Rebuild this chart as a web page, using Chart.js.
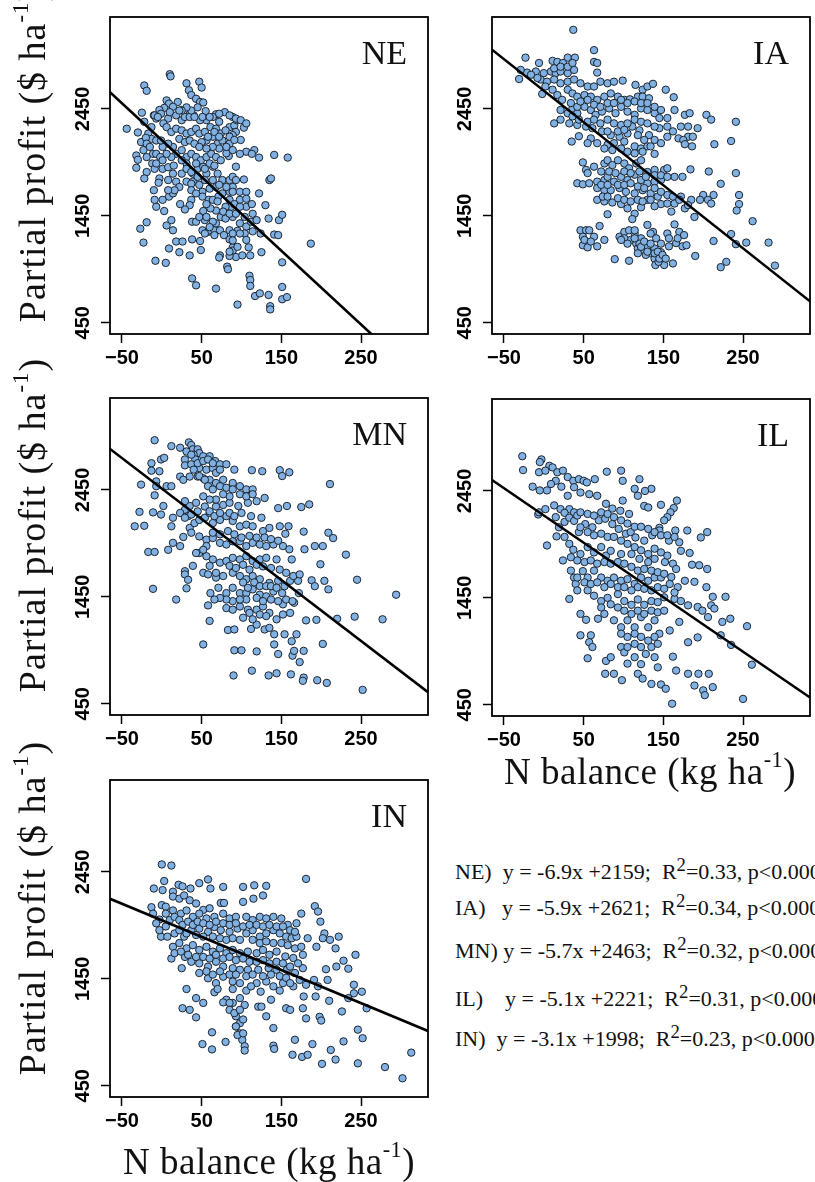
<!DOCTYPE html>
<html><head><meta charset="utf-8">
<script src="https://cdn.jsdelivr.net/npm/chart.js@4.4.1/dist/chart.umd.min.js"></script>
<style>
html,body{margin:0;padding:0;background:#fff;overflow:hidden;width:815px;height:1182px;position:relative;}
.t{position:absolute;font-family:"Liberation Serif","Times New Roman",serif;color:#111;white-space:pre;line-height:1;}
.t sup{font-size:0.6em;vertical-align:0;position:relative;top:-0.75em;line-height:0;}
.ytitle{font-size:38px;letter-spacing:1px;transform:translate(-50%,-50%) rotate(-90deg);}
.xtitle{font-size:37px;letter-spacing:0.5px;transform:translateX(-50%);}
.plabel{font-size:34px;}
.eq{font-size:22px;}
.eq sup{font-size:0.85em;top:-0.45em;}
</style></head><body>
<script>
// ---- data ----
const panelNames = ['NE','IA','MN','IL','IN'];
const slopes = [-6.9,-5.9,-5.7,-5.1,-3.1];
const intercepts = [2159,2621,2463,2221,1998];
const rSquared = ['0.33','0.34','0.32','0.31','0.23'];
const pText = 'p<0.0001';
const xTickVals = [-50,50,150,250];
const yTickVals = [450,1450,2450];
const xLimits = [-65,334];
const yLimits = [345,3310];
const yTitle = 'Partial profit ($ ha<sup>-1</sup>)';
const xTitle = 'N balance (kg ha<sup>-1</sup>)';

const NE_pts = [[10,2775],[11,2755],[-22,2670],[-19,2620],[31,2690],[47,2705],[50,2650],[34,2625],[37,2580],[43,2545],[48,2515],[52,2510],[6,2530],[9,2500],[20,2515],[14,2470],[3,2460],[-3,2440],[25,2440],[55,2430],[79,2420],[68,2400],[-25,2415],[-10,2390],[-1,2405],[35,2400],[40,2390],
[18,2390],[25,2345],[29,2375],[35,2375],[8,2360],[2,2315],[-7,2360],[-13,2280],[-17,2220],[-13,2170],[-7,2155],[-44,2265],[-30,2230],[-22,2330],[-9,2390],[-26,2140],[-20,2180],
[61,2280],[68,2265],[72,2330],[85,2280],[91,2295],[93,2235],[103,2275],[89,2205],[99,2160],[74,2220],[64,2190],[70,2125],[56,2155],[50,2140],
[106,2050],[116,2065],[113,2030],[122,1995],[141,2020],[158,1995],[98,2030],[93,1910],[84,2010],[81,2035],
[-32,2015],[-30,1975],[-32,1900],[-11,2030],[-7,2030],[-12,1940],[-19,1860],[-22,1800],[-9,1890],[1,1890],[8,1905],[15,1920],[-3,1800],[-4,1760],[-10,1690],
[25,1845],[31,1770],[39,1845],[45,1890],[52,1910],[56,1845],[64,1910],[70,1845],[76,1785],[85,1785],[89,1815],[93,1785],[103,1790],[39,1770],[47,1740],[51,1675],[60,1705],[68,1720],[76,1660],[85,1675],[89,1720],[98,1675],[106,1675],[135,1785],[137,1800],
[37,1750],[37,1690],[51,1630],[59,1600],[71,1630],
[9,1630],[14,1660],[37,1600],[35,1550],[29,1510],[23,1560],[3,1495],[6,1360],[14,1315],[12,1410],[-19,1390],[-27,1330],[-23,1200],[-8,1030],[5,1010],[9,1145],[22,1110],[35,1080],[18,1210],[26,1210],[38,1230],[48,1215],[49,1130],[38,1395],[43,1395],[52,1495],[54,1410],[51,1315],[58,1300],[60,1315],[66,1315],[73,1315],[85,1315],[68,1380],[74,1440],[80,1425],[89,1440],[98,1380],[106,1350],[112,1395],[114,1470],[106,1535],[98,1600],[106,1610],[113,1560],[87,1535],[80,1535],[77,1490],[68,1500],[61,1520],[122,1660],[130,1550],[134,1425],[147,1410],[151,1460],[119,1410],[124,1285],[104,1285],[95,1310],[114,1305],[141,1275],[146,1270],[187,1190],
[85,1230],[89,1155],[89,1125],[93,1065],[85,1075],[73,1080],[72,1060],[82,975],[83,950],[101,1080],[109,1155],[111,1080],[125,1110],[151,1015],[110,890],[111,850],[111,795],[117,700],[123,725],[134,710],[136,605],[136,575],[151,785],[151,670],[157,690],[95,620],[68,770],[43,800],[38,865],
[6,2280],[12,2235],[18,2265],[25,2250],[31,2220],[37,2235],[43,2265],[47,2220],[54,2235],[58,2190],[22,2170],[29,2140],[35,2155],[41,2125],[47,2095],[14,2095],[8,2125],[1,2095],[-1,2155],[18,2030],[25,2065],[31,2000],[37,2030],[43,2000],[49,1970],[56,2000],[62,2030],[68,2000],[74,1970],[60,1940],[66,1920],[54,1890],[43,1940],[31,1940],[25,1970],[12,2000],[6,2030],[-2,2000],[37,2435],[31,2465],[25,2435],[10,2420],[-5,2375],[56,2345],[48,2345],[41,2375],[64,2375],[89,2375],[94,2345],[80,2250],[76,2155],[85,2125],[89,2065],[72,2080],[81,2095],[64,2095],[56,2080],
[66,2235],[72,2190],[85,2190],[91,2160],[31,1890],[37,1860],[45,1815],[54,1785],[64,1785],[72,1740],[81,1720],[89,1675],[43,1660],[56,1560],[64,1600],[70,1585],[85,1600],[91,1560],[98,1535],[104,1440],[85,1470],[93,1470],[47,1440],[56,1440],[64,1395],[60,1345],[54,1285],[66,1270],[78,1270],[89,1285],[98,1285],[106,1225],[89,1220],[95,1160],[85,1115],
[-19,2125],[-23,2065],[-19,2000],[-15,2095],[-7,1940],[1,1970],[14,1845],[8,1785],[18,1770],[22,1720],[16,1690],[8,1690],[1,1600],[-7,1535],[-9,1600],[22,2435],[45,2465],[51,2375],[60,2375],[72,2405],[85,2390],[93,2360],[99,2345],[106,2315]];

const IA_pts = [[37,3190],[63,3000],[-23,2930],[-6,2880],[30,2930],[39,2930],[11,2900],[17,2890],[24,2880],[63,2890],[67,2880],
[-31,2730],[-21,2790],[-10,2800],[0,2785],[9,2800],[15,2785],[21,2800],[30,2785],[38,2815],[67,2790],[-2,2590],[-4,2725],[4,2705],[13,2725],[21,2690],[30,2705],[38,2725],[46,2690],[55,2660],[63,2660],[71,2705],[80,2690],[88,2705],[99,2715],[115,2675],[124,2630],[130,2660],[137,2685],[153,2630],[163,2560],
[30,2630],[36,2595],[42,2565],[51,2580],[59,2565],[67,2535],[76,2565],[84,2595],[93,2565],[101,2535],[108,2540],[118,2565],[124,2565],[132,2550],
[21,2440],[30,2410],[36,2455],[42,2410],[51,2470],[59,2440],[65,2395],[73,2425],[82,2455],[90,2410],[97,2470],[105,2425],[114,2395],[122,2455],[130,2440],[139,2410],[145,2365],[155,2365],[164,2440],[177,2395],[183,2410],[204,2395],[210,2350],[241,2330],
[13,2315],[21,2350],[32,2315],[42,2300],[53,2285],[61,2270],[73,2240],[84,2205],[95,2190],[105,2220],[111,2285],[120,2250],[132,2205],[145,2270],[155,2285],[162,2240],[172,2285],[181,2285],[193,2270],[181,2190],[187,2190],[169,2175],[175,2160],[155,2190],[214,2120],[235,2150],[35,2145],[44,2195],[59,2175],[80,2115],[88,2130],[101,2145],[114,2100],[122,2080],[130,2100],[139,2030],[186,2100],[177,2120],
[49,1950],[53,1880],[63,1910],[76,1940],[80,1970],[86,1925],[93,1970],[101,1940],[107,1895],[116,1940],[122,1970],[130,1860],[139,1880],[151,1880],[155,1895],[164,1815],[174,1815],[184,1885],[207,1865],[241,1850],[42,1755],[49,1745],[57,1755],[67,1770],[76,1785],[80,1815],[88,1770],[97,1815],[105,1785],[114,1835],[122,1785],[130,1755],[139,1770],[147,1785],[67,1710],[76,1690],[84,1690],[95,1710],[103,1675],[114,1660],[124,1690],[134,1660],[143,1630],[155,1645],[162,1630],[172,1630],[185,1600],[200,1645],[213,1645],[222,1750],[245,1645],[245,1560],[242,1500],[206,1600],[67,1600],[76,1585],[86,1575],[97,1560],[105,1520],[114,1470],[122,1530],[130,1600],[147,1560],[160,1490],[177,1520],[189,1440],[262,1400],[80,1465],[111,1420],
[46,1315],[53,1315],[57,1315],[49,1255],[63,1255],[49,1175],[55,1155],[67,1165],[76,1225],[70,1355],[95,1255],[101,1300],[107,1315],[114,1285],[109,1225],[116,1190],[122,1240],[118,1145],[124,1130],[130,1160],[134,1100],[139,1145],[143,1085],[147,1110],[149,1050],[151,990],[139,1050],[128,1085],[120,1190],[130,1365],[137,1300],[155,1285],[164,1370],[170,1300],[166,1195],[174,1165],[179,1175],[157,1165],[162,1005],[190,1075],[89,1045],[107,1030],[213,1215],[235,1280],[241,1185],[254,1200],[282,1200],[290,985],[222,970],[229,1020],[140,990],[144,1020],
[-29,2815],[-16,2770],[-8,2740],[2,2660],[11,2630],[17,2580],[23,2535],[34,2505],[42,2470],[46,2520],[55,2535],[63,2490],[71,2470],[80,2505],[88,2505],[97,2535],[105,2505],[114,2520],[122,2505],[130,2505],[139,2470],[147,2440],[36,2380],[44,2350],[55,2330],[63,2350],[71,2315],[80,2350],[88,2315],[97,2300],[105,2315],[114,2350],[122,2330],[130,2315],[139,2285],[80,2240],[93,2240],[101,2255],[118,2205],[126,2160],[139,2160],[147,2130],[134,2100],[124,2050],[114,2035],[105,2050],[97,2080],[86,2065],[76,2080],[67,2130],[55,2130],[13,2830],[21,2845],[30,2845],[36,2880],
[55,1850],[72,1865],[82,1865],[90,1850],[101,1865],[109,1850],[120,1865],[128,1815],[139,1830],[147,1830],[155,1815],[72,1740],[80,1740],[93,1740],[101,1740],[109,1755],[118,1725],[126,1710],[139,1710],[147,1675],[74,1630],[80,1630],[93,1615],[101,1600],[109,1585],[118,1600],[124,1585],[134,1600],[139,1540],[155,1565],[164,1565],[170,1600],[181,1550],[196,1600],[210,1565],
[51,1225],[59,1210],[101,1240],[105,1190],[114,1240],[118,1100],[122,1160],[126,1210],[130,1115],[134,1190],[139,1100],[143,1115],[145,1050],[149,1085],[153,1050],[134,1285],[141,1240],[147,1190],[157,1240],[168,1240],[176,1270],[114,1315],[97,1225]];

const MN_pts = [[-9,2915],[12,2860],[23,2845],[34,2895],[37,2870],[39,2830],[45,2830],[47,2795],[40,2780],[42,2735],[52,2765],[60,2765],[67,2720],[73,2690],[81,2690],[-13,2700],[-1,2735],[3,2750],[-13,2630],[-3,2625],[29,2735],[29,2680],[37,2690],[47,2655],[56,2640],[64,2655],[68,2610],[91,2640],[113,2635],[126,2625],[148,2635],[151,2580],[160,2615],[211,2505],[-26,2500],[-7,2530],[-7,2485],[6,2485],[12,2485],[23,2575],[27,2545],[35,2575],[45,2575],[52,2560],[60,2545],[68,2515],[77,2545],[89,2515],[98,2485],[106,2455],[114,2455],[129,2375],[-9,2400],[2,2300],[-28,2245],[-11,2240],[-34,2110],[-22,2115],[-1,2220],[14,2190],[12,2110],[29,2265],[33,2205],[35,2095],[41,2140],[47,2170],[54,2190],[60,2235],[68,2295],[77,2310],[85,2330],[96,2300],[108,2330],[119,2345],[64,2140],[73,2170],[81,2205],[89,2160],[98,2110],[106,2125],[114,2110],[127,2065],[135,2095],[146,2280],[157,2300],[175,2290],[185,2315],[148,2110],[159,2110],[155,2040],[178,2060],[209,2050],[215,2000],
[-17,1870],[-9,1870],[8,1890],[14,1955],[23,1925],[27,2010],[37,2050],[47,2015],[56,1985],[64,2000],[73,1955],[81,1940],[89,1970],[98,1970],[106,1925],[114,1955],[123,1940],[131,1925],[140,1940],[152,1925],[160,1895],[179,1895],[192,1925],[202,1925],[231,1845],[199,1755],[47,1860],[56,1830],[64,1800],[73,1770],[81,1785],[89,1815],[98,1800],[106,1830],[114,1785],[123,1800],[131,1815],[144,1800],[163,1800],[39,1740],[29,1690],[29,1660],[33,1610],[31,1530],[-11,1525],[18,1425],[52,1675],[58,1660],[68,1630],[77,1645],[89,1675],[98,1645],[106,1615],[114,1645],[123,1615],[135,1580],[146,1600],[161,1600],[171,1600],[188,1605],[204,1600],[209,1520],[192,1550],[245,1610],[294,1470],
[61,1485],[71,1535],[81,1485],[89,1535],[98,1485],[106,1485],[114,1520],[123,1470],[131,1455],[140,1500],[151,1485],[172,1485],[58,1370],[81,1345],[89,1330],[98,1360],[108,1330],[119,1330],[127,1360],[135,1300],[152,1380],[166,1395],[60,1225],[83,1140],[91,1145],[112,1150],[119,1190],[129,1145],[135,1160],[141,1100],[154,1100],[169,1100],[163,1035],[181,1230],[194,1235],[220,1245],[242,1265],[277,1240],[52,1005],[91,950],[100,950],[119,940],[141,1005],[146,915],[164,900],[166,945],[178,945],[173,840],[202,1010],[90,715],[113,760],[134,715],[144,735],[162,725],[178,695],[177,665],[195,670],[207,645],[252,580],
[31,2810],[37,2780],[45,2700],[52,2720],[58,2735],[64,2700],[73,2640],[40,2640],[47,2580],[54,2545],[58,2485],[64,2455],[73,2485],[81,2470],[89,2455],[98,2410],[106,2390],[114,2410],[85,2390],[77,2410],[68,2360],[60,2360],[52,2390],[43,2330],[35,2300],[29,2345],[23,2235],[29,2190],[37,2220],[45,2250],[54,2295],[60,2250],[66,2205],[73,2235],[85,2235],[91,2205],[100,2235],[112,2205],[125,2190],[64,2050],[73,2035],[83,2065],[91,2035],[100,2005],[110,2020],[119,2005],[129,2005],[137,1990],[146,1975],[56,1925],[52,1890],[43,1860],[60,1740],[68,1675],[85,1740],[93,1720],[102,1750],[110,1705],[119,1750],[127,1735],[137,1720],[148,1705],[156,1675],[165,1645],[173,1660],[102,1585],[108,1535],[116,1585],[123,1550],[131,1550],[137,1550],[144,1535],[154,1550],[119,1440],[127,1410],[137,1425],[146,1410],[156,1425],[164,1410],[106,1425],[98,1425],[89,1410],[81,1425],[73,1440],[66,1425],[110,1300],[123,1285],[131,1270],[144,1240],[152,1285],[161,1300],[114,1240],[102,1255]];

const IL_pts = [[-27,2775],[-26,2645],[-3,2745],[-5,2720],[7,2685],[-6,2625],[2,2640],[11,2670],[17,2625],[24,2640],[30,2580],[15,2545],[9,2515],[4,2455],[-5,2455],[-14,2490],[22,2490],[37,2545],[44,2560],[50,2545],[54,2530],[64,2560],[79,2630],[97,2640],[99,2545],[120,2560],[114,2470],[135,2470],[127,2450],[118,2405],[126,2310],[131,2295],[147,2320],[167,2360],[163,2290],[30,2405],[38,2485],[46,2435],[57,2420],[67,2405],[78,2330],[86,2285],[96,2265],[99,2360],[107,2235],[159,2250],[155,2205],[151,2175],[145,2105],
[-7,2230],[-6,2250],[2,2280],[13,2315],[21,2280],[32,2280],[38,2250],[15,2205],[26,2160],[19,2110],[16,2025],[4,1940],[26,2020],[32,1955],[44,2065],[52,2140],[61,2110],[69,2175],[77,2190],[86,2140],[94,2095],[103,2050],[109,2065],[115,2015],[126,1985],[136,2035],[145,2080],[165,2080],[180,2080],[197,2015],[205,2065],[170,1970],[157,1985],[183,1870],[186,1760],[195,1755],[205,1720],
[24,1800],[37,1900],[46,1860],[55,1925],[63,1875],[72,1925],[78,1845],[84,1890],[97,1860],[110,1860],[120,1815],[131,1785],[139,1815],[152,1785],[162,1770],[166,1720],[34,1705],[38,1640],[40,1580],[42,1520],[32,1440],[49,1700],[55,1640],[63,1705],[72,1640],[80,1610],[88,1640],[97,1610],[105,1625],[114,1580],[122,1640],[131,1610],[139,1640],[147,1640],[158,1580],[168,1550],[177,1610],[189,1600],[204,1550],[212,1460],[228,1460],
[55,1520],[63,1470],[72,1420],[80,1450],[93,1485],[101,1420],[110,1385],[118,1435],[126,1385],[135,1420],[143,1410],[151,1455],[164,1440],[172,1420],[181,1380],[193,1365],[199,1330],[210,1380],[214,1350],[206,1270],[224,1225],[234,1255],[255,1185],[46,1300],[53,1245],[68,1255],[76,1300],[88,1240],[97,1175],[105,1240],[114,1175],[122,1270],[131,1175],[139,1240],[145,1115],[158,1145],[170,1225],[181,1035],[193,1080],[222,1100],[235,1010],
[46,1100],[59,1100],[57,1035],[61,990],[55,885],[78,860],[84,895],[77,740],[88,740],[97,990],[101,940],[105,835],[114,895],[122,830],[128,925],[139,895],[143,800],[162,900],[166,770],[118,740],[124,695],[135,645],[147,640],[153,600],[181,740],[189,630],[194,740],[207,740],[200,585],[202,540],[212,615],[261,825],[98,680],[161,460],[250,505],
[26,2245],[32,2200],[38,2170],[42,2220],[46,2250],[55,2235],[63,2220],[72,2250],[80,2235],[88,2205],[97,2175],[105,2145],[114,2115],[122,2115],[131,2095],[139,2065],[147,2035],[155,2035],[164,2020],[46,2110],[55,2065],[63,2035],[72,2050],[80,2020],[88,2020],[97,1985],[105,1955],[114,1925],[122,1895],[131,1860],[139,1910],[147,1875],[155,1845],[172,1890],[34,1830],[42,1800],[51,1785],[59,1800],[67,1770],[76,1785],[84,1770],[93,1785],[101,1770],[110,1740],[118,1705],[126,1720],[135,1705],[143,1690],[151,1675],[160,1645],[42,1640],[51,1595],[59,1580],[67,1595],[76,1550],[84,1580],[93,1550],[101,1550],[110,1520],[118,1550],[126,1535],[135,1520],[143,1550],[151,1535],[164,1500],[72,1360],[84,1390],[93,1360],[101,1330],[110,1300],[118,1330],[126,1300],[135,1330],[143,1315],[151,1330],[97,1115],[105,1085],[114,1115],[122,1085],[131,1050],[139,1085],[105,990],[114,1020],[122,990],[135,990],[143,1020]];

const IN_pts = [[0,2520],[12,2510],[-10,2295],[1,2280],[3,2365],[21,2330],[26,2315],[36,2295],[47,2345],[58,2380],[61,2295],[77,2310],[102,2310],[116,2325],[131,2320],[127,2230],[115,2200],[102,2170],[181,2385],[-13,2120],[0,2140],[-3,2005],[14,2265],[14,2220],[22,2200],[28,2230],[35,2185],[43,2155],[52,2095],[60,2110],[74,2160],[78,2160],
[5,2125],[5,2060],[14,2090],[24,2060],[31,2090],[39,2030],[47,2060],[56,2015],[66,2030],[77,2060],[85,2015],[93,2030],[106,2030],[114,2000],[123,2030],[131,2015],[140,2030],[150,2015],[158,1955],[169,1970],[175,2060],[192,2130],[196,2080],[199,1985],
[-1,1845],[7,1845],[16,1875],[28,1845],[37,1905],[47,1920],[58,1890],[66,1935],[74,1905],[85,1890],[95,1920],[106,1875],[114,1905],[123,1845],[131,1875],[140,1905],[148,1875],[156,1845],[163,1830],[169,1845],[183,1830],[204,1875],[202,1830],[211,1815],[222,1845],[218,1735],[194,1750],
[14,1750],[22,1785],[31,1735],[39,1765],[47,1720],[56,1750],[64,1705],[73,1735],[81,1690],[89,1720],[98,1690],[108,1705],[119,1690],[127,1720],[135,1675],[144,1705],[155,1660],[165,1645],[177,1675],
[12,1640],[25,1550],[29,1655],[37,1610],[47,1595],[58,1565],[68,1610],[77,1565],[89,1550],[98,1535],[108,1535],[121,1535],[134,1550],[144,1535],[157,1535],[167,1505],[177,1550],[206,1540],[219,1565],[228,1620],[234,1545],[243,1675],
[58,1455],[68,1410],[77,1470],[89,1425],[98,1410],[119,1410],[131,1425],[140,1380],[152,1410],[165,1380],[191,1440],[196,1380],[208,1440],[241,1395],[251,1330],[241,1315],[234,1270],
[31,1355],[43,1270],[52,1225],[66,1325],[81,1255],[89,1225],[98,1270],[104,1205],[124,1330],[137,1255],[178,1285],[193,1285],[210,1245],[26,1175],[35,1160],[43,1090],[77,1230],[85,1225],[93,1100],[98,1035],[102,1070],[121,1190],[125,1190],[131,1100],[156,1175],[161,1160],[177,1175],[181,1080],[198,1095],[200,1060],[226,1145],[257,1175],
[63,950],[51,840],[63,790],[80,860],[93,1005],[98,940],[101,880],[104,820],[104,780],[140,825],[141,795],[167,880],[164,740],[176,720],[183,740],[189,840],[201,655],[212,785],[218,695],[228,865],[246,975],[252,895],[246,660],[280,625],[302,520],[313,760],[140,990],
[-11,2060],[-7,1970],[-3,1905],[5,1940],[10,2000],[16,2030],[22,2000],[26,1955],[33,1985],[39,1955],[45,1985],[52,1970],[60,1955],[68,1985],[77,1970],[85,1955],[93,1970],[102,1940],[110,1955],[119,1955],[127,1940],[135,1955],[144,1940],[152,1940],[161,1905],[167,1890],[22,1905],[31,1875],[43,1860],[52,1845],[64,1845],[73,1830],[81,1815],[89,1830],[98,1815],[114,1815],[123,1785],[131,1800],[140,1785],[150,1785],[158,1765],[167,1735],[175,1750],[16,1690],[24,1705],[33,1675],[43,1655],[52,1655],[60,1640],[68,1675],[77,1640],[85,1655],[93,1625],[102,1640],[110,1610],[119,1610],[127,1625],[135,1595],[144,1610],[152,1595],[161,1565],[171,1595],[47,1505],[56,1520],[64,1490],[73,1520],[85,1490],[93,1490],[106,1475],[114,1490],[127,1475],[137,1490],[148,1475],[156,1460],[173,1440],[181,1395],[70,1355],[89,1355],[106,1340],[112,1380],[148,1340],[161,1410],[85,1160],[91,1130],[98,1160],[93,1005],[95,925],[102,940]];

const ptsByName = {NE:NE_pts, IA:IA_pts, MN:MN_pts, IL:IL_pts, IN:IN_pts};

// ---- layout ----
const boxes = {NE:{l:110,t:17}, IA:{l:492,t:17}, MN:{l:110,t:398}, IL:{l:492,t:399}, IN:{l:110,t:780}};
const BW=318, BH=317, YW=60, PT=10, PR=10, XH=45;
const tickFont = {family:"'Liberation Sans', Arial, sans-serif", weight:'bold', size:20};
const fmtTick = v => v < 0 ? '\u2212' + Math.abs(v) : String(v);

const boxPlugin = {id:'box', afterDraw(chart){
  const {ctx, chartArea:a} = chart;
  ctx.save(); ctx.strokeStyle='#000'; ctx.lineWidth=1.8;
  ctx.strokeRect(a.left, a.top, a.right-a.left, a.bottom-a.top);
  ctx.restore();
}};

function addText(cls, html, css){
  const d = document.createElement('div');
  d.className = 't ' + cls; d.innerHTML = html; d.style.cssText = css;
  document.body.appendChild(d);
}

panelNames.forEach((name, i) => {
  const b = boxes[name];
  const W = YW + BW + PR, H = PT + BH + XH;
  const cv = document.createElement('canvas');
  cv.width = W; cv.height = H;
  cv.style.cssText = `position:absolute;left:${b.l-YW}px;top:${b.t-PT}px;width:${W}px;height:${H}px;`;
  document.body.appendChild(cv);
  const pts = ptsByName[name].map(([x,y]) => ({x, y}));
  const fit = xLimits.map(x => ({x, y: slopes[i]*x + intercepts[i]}));
  new Chart(cv, {
    type:'scatter',
    data:{datasets:[
      {data:fit, showLine:true, pointRadius:0, borderColor:'#000', borderWidth:2.6, clip:0},
      {data:pts, pointRadius:3.7, pointBackgroundColor:'#80B1E2', pointBorderColor:'#1c2530', pointBorderWidth:1}
    ]},
    options:{
      responsive:false, animation:false, events:[],
      layout:{padding:{top:PT, right:PR, left:0, bottom:0}},
      plugins:{legend:{display:false}, tooltip:{enabled:false}},
      scales:{
        x:{type:'linear', min:xLimits[0], max:xLimits[1],
          afterBuildTicks:s => { s.ticks = xTickVals.map(v => ({value:v})); },
          afterFit:s => { s.height = XH; },
          grid:{display:true, drawOnChartArea:false, drawTicks:true, tickLength:9, tickWidth:1.5, tickColor:'#000'},
          border:{display:false},
          ticks:{autoSkip:false, maxRotation:0, minRotation:0, padding:3, color:'#000', font:tickFont, callback:v => fmtTick(v)}
        },
        y:{type:'linear', min:yLimits[0], max:yLimits[1],
          afterBuildTicks:s => { s.ticks = yTickVals.map(v => ({value:v})); },
          afterFit:s => { s.width = YW; },
          grid:{display:true, drawOnChartArea:false, drawTicks:true, tickLength:9, tickWidth:1.5, tickColor:'#000'},
          border:{display:false},
          ticks:{autoSkip:false, minRotation:90, maxRotation:90, crossAlign:'center', padding:-5, color:'#000', font:tickFont, callback:v => fmtTick(v)}
        }
      }
    },
    plugins:[boxPlugin]
  });
  addText('plabel', name, `right:${815-(b.l+BW-21)}px;top:${b.t+47-28}px;`);
});

[{cy:155},{cy:525},{cy:908}].forEach(r => addText('ytitle', yTitle, `left:32px;top:${r.cy}px;`));
addText('xtitle', xTitle, `left:650px;top:753px;`);
addText('xtitle', xTitle, `left:269px;top:1143px;`);

const gaps = ['  ','   ',' ','    ','  '];
const eqBase = [879, 915, 958, 1006, 1046];
panelNames.forEach((name, i) => {
  const s = slopes[i].toFixed(1);
  const html = `${name})${gaps[i]}y = ${s}x +${intercepts[i]};  R<sup>2</sup>=${rSquared[i]}, ${pText.replace('<','&lt;')}`;
  addText('eq', html, `left:455px;top:${eqBase[i]-18}px;`);
});
</script>
</body></html>
